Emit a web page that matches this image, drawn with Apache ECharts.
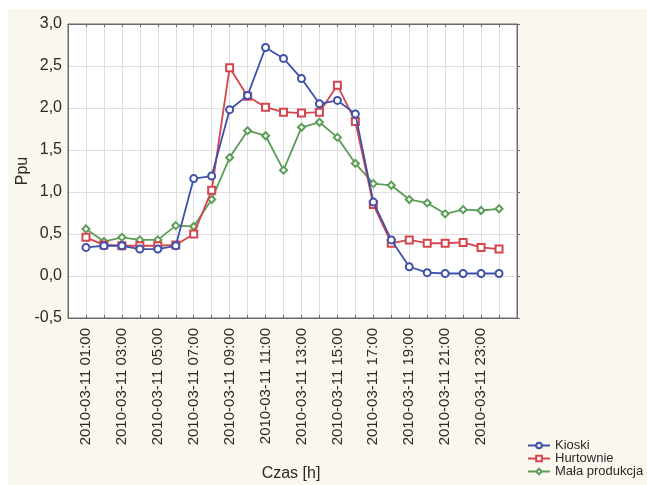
<!DOCTYPE html>
<html>
<head>
<meta charset="utf-8">
<script src="https://cdn.jsdelivr.net/npm/echarts@6/dist/echarts.min.js"></script>
<style>html,body{margin:0;padding:0;background:#fff}#c{width:647px;height:485px}</style>
</head>
<body>
<div id="c"></div>
<script>
var times = ['2010-03-11 01:00','2010-03-11 02:00','2010-03-11 03:00','2010-03-11 04:00','2010-03-11 05:00','2010-03-11 06:00',
  '2010-03-11 07:00','2010-03-11 08:00','2010-03-11 09:00','2010-03-11 10:00','2010-03-11 11:00','2010-03-11 12:00',
  '2010-03-11 13:00','2010-03-11 14:00','2010-03-11 15:00','2010-03-11 16:00','2010-03-11 17:00','2010-03-11 18:00',
  '2010-03-11 19:00','2010-03-11 20:00','2010-03-11 21:00','2010-03-11 22:00','2010-03-11 23:00','2010-03-12 00:00'];
var kioski = [0.34,0.36,0.36,0.32,0.32,0.36,1.16,1.19,1.98,2.15,2.72,2.59,2.35,2.05,2.09,1.93,0.88,0.43,0.11,0.04,0.03,0.03,0.03,0.03];
var hurtownie = [0.46,0.37,0.36,0.36,0.36,0.37,0.50,1.02,2.48,2.14,2.01,1.95,1.94,1.95,2.27,1.84,0.85,0.39,0.43,0.39,0.39,0.40,0.34,0.32];
var malaProdukcja = [0.56,0.41,0.46,0.43,0.43,0.60,0.59,0.91,1.41,1.73,1.67,1.26,1.77,1.83,1.65,1.34,1.10,1.08,0.91,0.87,0.74,0.79,0.78,0.80];
var seriesNames = ['Kioski','Hurtownie','Mała produkcja'];
var yTicks = {min:-0.5, max:3.0, step:0.5};

var cats = [''].concat(times).concat(['']);
function pts(arr){ return arr.map(function(v,i){ return [i+1, v]; }); }
var gridCol = '#dedede', frameCol = '#6a6a6a', txt = '#2a2a2a';
var reg = "'Liberation Sans',Arial,sans-serif";

var chart = echarts.init(document.getElementById('c'), null, {renderer:'canvas'});
chart.setOption({
  animation:false,
  backgroundColor:'#ffffff',
  graphic:[
    {type:'rect', z:-100, shape:{x:8,y:9,width:639,height:476}, style:{fill:'#f9f7ee'}},
    {type:'text', x:23, y:171, rotation:Math.PI/2, style:{text:'Ppu', align:'center', verticalAlign:'middle', font:"16px "+reg, fill:txt}},
    {type:'text', x:291, y:474, style:{text:'Czas [h]', align:'center', verticalAlign:'middle', font:"16px "+reg, fill:txt}}
  ],
  grid:{left:68, top:24, right:130, bottom:167, show:true, backgroundColor:'#ffffff', borderColor:frameCol, borderWidth:1},
  legend:{
    orient:'vertical', left:527, top:439, padding:0, itemWidth:22, itemHeight:7, itemGap:0,
    textStyle:{fontFamily:reg, fontSize:13, color:txt, lineHeight:11.5},
    data:seriesNames
  },
  xAxis:[{
    type:'category', data:cats, boundaryGap:false, position:'bottom',
    axisLine:{show:true, onZero:false, lineStyle:{color:frameCol}},
    axisTick:{show:true, inside:true, length:3, interval:0, lineStyle:{color:frameCol}},
    axisLabel:{rotate:90, margin:10, interval:function(i){ return i%2===1 && i<24; }, fontFamily:reg, fontSize:15, color:txt},
    splitLine:{show:true, interval:0, lineStyle:{color:gridCol, width:1}}
  },{
    type:'category', data:cats, boundaryGap:false, position:'top',
    axisLine:{show:true, onZero:false, lineStyle:{color:frameCol}},
    axisTick:{show:true, inside:true, length:3, interval:0, lineStyle:{color:frameCol}},
    axisLabel:{show:false}, splitLine:{show:false}
  }],
  yAxis:[{
    type:'value', min:yTicks.min, max:yTicks.max, interval:yTicks.step, position:'left',
    axisLine:{show:true, onZero:false, lineStyle:{color:frameCol}},
    axisTick:{show:false},
    axisLabel:{margin:6, fontFamily:reg, fontSize:16, color:txt, formatter:function(v){ return v.toFixed(1).replace('.',','); }},
    splitLine:{show:true, lineStyle:{color:gridCol, width:1}}
  },{
    type:'value', min:yTicks.min, max:yTicks.max, interval:yTicks.step, position:'right',
    axisLine:{show:true, onZero:false, lineStyle:{color:frameCol}},
    axisTick:{show:true, inside:false, length:3, lineStyle:{color:frameCol}},
    axisLabel:{show:false}, splitLine:{show:false}
  }],
  series:[
    {name:seriesNames[0], type:'line', data:pts(kioski), symbol:'emptyCircle', symbolSize:7,
     itemStyle:{color:'#3f51a9', borderWidth:1.5}, lineStyle:{color:'#3f51a9', width:1.8}, z:4},
    {name:seriesNames[1], type:'line', data:pts(hurtownie), symbol:'emptyRect', symbolSize:7,
     itemStyle:{color:'#d4454d', borderWidth:1.5}, lineStyle:{color:'#d4454d', width:1.8}, z:3},
    {name:seriesNames[2], type:'line', data:pts(malaProdukcja), symbol:'emptyDiamond', symbolSize:7,
     itemStyle:{color:'#5c9d58', borderWidth:1.5}, lineStyle:{color:'#5c9d58', width:1.8}, z:2}
  ]
});
</script>
</body>
</html>
